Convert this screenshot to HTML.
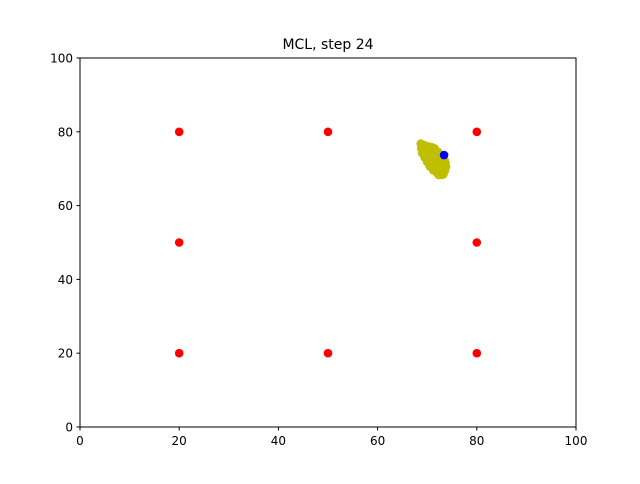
<!DOCTYPE html>
<html><head><meta charset="utf-8"><style>
body{margin:0;background:#fff;font-family:"DejaVu Sans","Liberation Sans",sans-serif}
</style></head><body>
<svg width="640" height="480" xmlns="http://www.w3.org/2000/svg">
<rect width="640" height="480" fill="#fff"/>
<text x="328" y="49" text-anchor="middle" font-size="14">MCL, step 24</text>
<g id="marks"></g>
<rect x="80" y="58" width="496" height="369" fill="none" stroke="#000" stroke-width="1"/>
<g id="axes" font-size="12"></g>
</svg>
<script>
const xTicks=[0,20,40,60,80,100];
const yTicks=[0,20,40,60,80,100];
const landmarksX=[20,50,80,20,80,20,50,80];
const landmarksY=[80,80,80,50,50,20,20,20];
const particlesX=[68.7,69.2,69.8,70.4,71,71.5,68.8,69.4,70,70.6,71.2,71.8,69,69.6,70.2,70.8,71.4,72,69.5,70.1,70.7,71.3,71.9,72.4,70,70.6,71.2,71.8,72.4,72.9,70.5,71.1,71.7,72.3,72.9,71.2,71.8,72.4,73,72,72.6,73.2,72.3,72.9,73.3,73.6,73.8,73.7,73.5,72.6,72.2];
const particlesY=[76.8,76.5,76.2,76,75.8,75.5,75.5,75.3,75,74.8,74.6,74.3,74.2,74,73.8,73.6,73.4,73.2,73,72.8,72.6,72.4,72.2,72,71.8,71.6,71.4,71.2,71,70.8,70.6,70.4,70.2,70,69.8,69.6,69.4,69.2,69,68.8,68.6,68.4,68.3,68.3,68.6,69.5,70.5,71.5,72.3,73.5,74.5];
const robotX=[73.4];
const robotY=[73.7];
const sx=v=>80+v*4.96, sy=v=>427-v*3.69;
const NS="http://www.w3.org/2000/svg";
const marks=document.getElementById('marks'), axes=document.getElementById('axes');
function dot(x,y,c,name){const e=document.createElementNS(NS,'circle');e.setAttribute('cx',sx(x));e.setAttribute('cy',sy(y));e.setAttribute('r',4.3);e.setAttribute('fill',c);


marks.appendChild(e);}
landmarksX.forEach((x,i)=>dot(x,landmarksY[i],'#ff0000','landmark'));
particlesX.forEach((x,i)=>dot(x,particlesY[i],'#bfbf00','particle'));
robotX.forEach((x,i)=>dot(x,robotY[i],'#0000ff','robot-position'));
xTicks.forEach(t=>{const l=document.createElementNS(NS,'line');l.setAttribute('x1',sx(t));l.setAttribute('x2',sx(t));l.setAttribute('y1',427);l.setAttribute('y2',430.5);l.setAttribute('stroke','#000');


axes.appendChild(l);
const tx=document.createElementNS(NS,'text');tx.setAttribute('x',sx(t));tx.setAttribute('y',445);tx.setAttribute('text-anchor','middle');tx.textContent=t;


axes.appendChild(tx);});
yTicks.forEach(t=>{const l=document.createElementNS(NS,'line');l.setAttribute('x1',76.5);l.setAttribute('x2',80);l.setAttribute('y1',sy(t));l.setAttribute('y2',sy(t));l.setAttribute('stroke','#000');


axes.appendChild(l);
const tx=document.createElementNS(NS,'text');tx.setAttribute('x',73);tx.setAttribute('y',sy(t)+4.5);tx.setAttribute('text-anchor','end');tx.textContent=t;


axes.appendChild(tx);});
</script>
</body></html>
